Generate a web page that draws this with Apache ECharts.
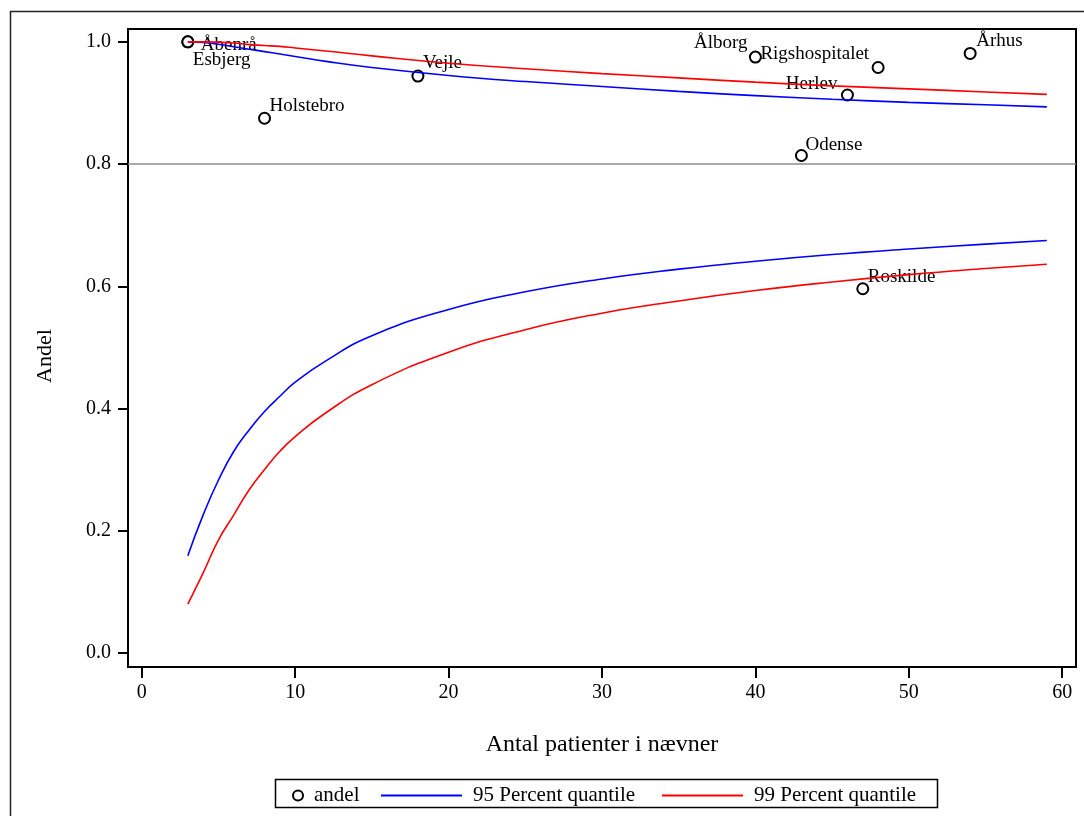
<!DOCTYPE html>
<html>
<head>
<meta charset="utf-8">
<title>Andel - funnel plot</title>
<script src="https://cdn.jsdelivr.net/npm/echarts@6/dist/echarts.min.js"></script>
<style>
  html, body { margin: 0; padding: 0; background: #fff; }
  #chart { width: 1084px; height: 816px; }
</style>
</head>
<body>
<div id="chart"></div>
<script>
// Hospitals: number of patients in the denominator and the observed share
const hospitals = ['Åbenrå', 'Esbjerg', 'Holstebro', 'Vejle', 'Ålborg', 'Rigshospitalet', 'Herlev', 'Odense', 'Århus', 'Roskilde'];
const patients  = [3, 3, 8, 18, 40, 48, 46, 43, 54, 47];
const andel     = [1.0, 1.0, 0.875, 0.944, 0.975, 0.958, 0.913, 0.814, 0.981, 0.596];

// Control limits sampled along the denominator
const limitN   = [3, 4, 5, 6, 7, 8, 9, 10, 12, 15, 20, 25, 30, 35, 40, 45, 50, 55, 59];
const upper95  = [1.0, 0.999, 0.996, 0.992, 0.988, 0.984, 0.980, 0.976, 0.968, 0.958, 0.945, 0.935, 0.927, 0.919, 0.912, 0.906, 0.901, 0.897, 0.8935];
const lower95  = [0.159, 0.226, 0.283, 0.330, 0.365, 0.395, 0.420, 0.443, 0.478, 0.519, 0.562, 0.591, 0.612, 0.628, 0.641, 0.652, 0.661, 0.669, 0.675];
const upper99  = [1.0, 1.0, 0.9995, 0.998, 0.9955, 0.994, 0.9925, 0.990, 0.985, 0.977, 0.965, 0.956, 0.948, 0.941, 0.934, 0.928, 0.923, 0.918, 0.914];
const lower99  = [0.080, 0.131, 0.185, 0.226, 0.267, 0.300, 0.330, 0.354, 0.393, 0.439, 0.492, 0.529, 0.556, 0.576, 0.593, 0.607, 0.619, 0.629, 0.636];

const targetLine = 0.8;
const xTicks = [0, 10, 20, 30, 40, 50, 60];
const yTicks = [0.0, 0.2, 0.4, 0.6, 0.8, 1.0];

// Where each hospital name sits relative to the marker centre (dx, dy)
const labelPlacement = {
  'Åbenrå':         { align: 'left',  dx: 14,  dy: 4 },
  'Esbjerg':        { align: 'left',  dx: 6,   dy: 19 },
  'Holstebro':      { align: 'left',  dx: 6,   dy: -11 },
  'Vejle':          { align: 'left',  dx: 6,   dy: -12 },
  'Ålborg':         { align: 'right', dx: -7,  dy: -13 },
  'Rigshospitalet': { align: 'right', dx: -8,  dy: -12 },
  'Herlev':         { align: 'right', dx: -9,  dy: -10 },
  'Odense':         { align: 'left',  dx: 5,   dy: -9 },
  'Århus':          { align: 'left',  dx: 7,   dy: -11 },
  'Roskilde':       { align: 'left',  dx: 6,   dy: -11 }
};

const FONT = '"Liberation Serif", "Times New Roman", serif';
const SYMBOL_SIZE = 11;

const pointData = hospitals.map((name, i) => {
  const p = labelPlacement[name];
  return {
    name: name,
    value: [patients[i], andel[i]],
    label: {
      show: true,
      // position is measured from the marker's top-left corner
      position: [SYMBOL_SIZE / 2 + p.dx, SYMBOL_SIZE / 2 + p.dy],
      align: p.align,
      verticalAlign: 'middle'
    }
  };
});

const zip = (xs, ys) => xs.map((x, i) => [x, ys[i]]);

const chart = echarts.init(document.getElementById('chart'), null, { renderer: 'canvas' });

const legendText = { fontFamily: FONT, fontSize: 21, color: '#000', padding: [0, 0, 0, 6] };
const limitLegend = (name, left) => ({
  data: [{ name: name, icon: 'rect' }],
  left: left, top: 780,
  itemWidth: 81, itemHeight: 1.8,
  textStyle: legendText
});

const limitLine = (name, color, values) => ({
  name: name,
  type: 'line', z: 3,
  smooth: 0.5,
  symbol: 'none',
  lineStyle: { color: color, width: 1.6 },
  itemStyle: { color: color },
  data: zip(limitN, values)
});

chart.setOption({
  animation: false,
  backgroundColor: '#fff',
  textStyle: { fontFamily: FONT },
  grid: {
    left: 128, top: 29, right: 8, bottom: 149,
    show: true, borderColor: '#000', borderWidth: 2, backgroundColor: 'transparent'
  },
  graphic: [
    {
      type: 'rect', left: 8, top: 9, silent: true, z: -1,
      shape: { width: 1100, height: 830 },
      style: { fill: null, stroke: '#222', lineWidth: 1.5 }
    },
    {
      type: 'rect', left: 273, top: 777, silent: true,
      shape: { width: 662, height: 28 },
      style: { fill: null, stroke: '#000', lineWidth: 1.5 }
    }
  ],
  legend: [
    {
      data: ['andel'],
      left: 287, top: 780,
      itemWidth: 10, itemHeight: 10,
      textStyle: Object.assign({}, legendText, { padding: [0, 0, 0, 6] })
    },
    limitLegend('95 Percent quantile', 376),
    limitLegend('99 Percent quantile', 657)
  ],
  xAxis: {
    type: 'value',
    min: -0.9, max: 60.9,
    name: 'Antal patienter i nævner',
    nameLocation: 'middle', nameGap: 66,
    nameTextStyle: { fontFamily: FONT, fontSize: 24, color: '#000' },
    axisLine: { show: false, onZero: false },
    axisTick: { show: true, customValues: xTicks, length: 11, lineStyle: { color: '#000', width: 2 } },
    axisLabel: { customValues: xTicks, margin: 16, fontFamily: FONT, fontSize: 20, color: '#000' },
    splitLine: { show: false }
  },
  yAxis: {
    type: 'value',
    min: -0.023, max: 1.021,
    name: 'Andel',
    nameLocation: 'middle', nameGap: 72,
    nameTextStyle: { fontFamily: FONT, fontSize: 22, color: '#000', padding: [0, 16, 0, 0] },
    axisLine: { show: false, onZero: false },
    axisTick: { show: true, customValues: yTicks, length: 10, lineStyle: { color: '#000', width: 2 } },
    axisLabel: {
      customValues: yTicks, margin: 17, fontFamily: FONT, fontSize: 20, color: '#000',
      formatter: v => v.toFixed(1)
    },
    splitLine: { show: false }
  },
  series: [
    {
      name: 'andel',
      type: 'scatter',
      z: 2,
      symbol: 'emptyCircle',
      symbolSize: SYMBOL_SIZE,
      itemStyle: { color: '#000', borderColor: '#000', borderWidth: 2, opacity: 1 },
      label: { fontFamily: FONT, fontSize: 19, color: '#000', formatter: '{b}' },
      labelLayout: { hideOverlap: false },
      emphasis: { disabled: true },
      data: pointData,
      markLine: {
        silent: true,
        symbol: 'none',
        label: { show: false },
        lineStyle: { color: '#8c8c8c', width: 1.5, type: 'solid', opacity: 1 },
        data: [{ yAxis: targetLine }]
      }
    },
    limitLine('95 Percent quantile', '#0000ff', upper95),
    limitLine('95 Percent quantile', '#0000ff', lower95),
    limitLine('99 Percent quantile', '#ff0000', upper99),
    limitLine('99 Percent quantile', '#ff0000', lower99)
  ]
});
</script>
</body>
</html>
